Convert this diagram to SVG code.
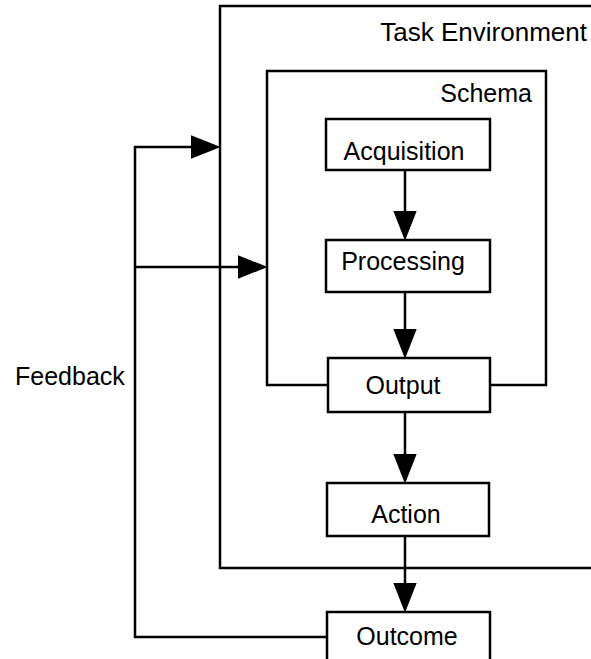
<svg xmlns="http://www.w3.org/2000/svg" width="591" height="659" viewBox="0 0 591 659">
  <style>
    .box { fill: #ffffff; stroke: #000000; stroke-width: 2.5; }
    .frame { fill: none; stroke: #000000; stroke-width: 2.5; }
    .lbl { font-family: "Liberation Sans", Arial, sans-serif; font-size: 25px; fill: #000000; }
    .ctr { text-anchor: middle; }
    .end { text-anchor: end; }
    .conn { fill: none; stroke: #000000; stroke-width: 2.5; }
  </style>
  <defs>
    <marker id="arrow" markerUnits="userSpaceOnUse" markerWidth="30" markerHeight="24" viewBox="0 0 28 22" refX="18" refY="11" orient="auto">
      <path d="M0,0 L28,11 L0,22 Z" fill="#000000"/>
    </marker>
  </defs>
  <rect x="0" y="0" width="591" height="659" fill="#ffffff"/>

  <g id="task-environment">
    <rect class="box" x="220" y="6" width="400" height="562"/>
    <text class="lbl end" x="587" y="41" style="font-size:26px">Task Environment</text>
  </g>

  <g id="schema">
    <rect class="box" x="267" y="71" width="279" height="314"/>
    <text class="lbl end" x="532" y="102">Schema</text>
  </g>

  <g id="connectors">
    <line class="conn" x1="405" y1="170" x2="405" y2="230" marker-end="url(#arrow)"/>
    <line class="conn" x1="405" y1="292" x2="405" y2="348" marker-end="url(#arrow)"/>
    <line class="conn" x1="405" y1="412" x2="405" y2="473" marker-end="url(#arrow)"/>
    <line class="conn" x1="405" y1="536" x2="405" y2="602" marker-end="url(#arrow)"/>
    <polyline class="conn" points="327,637 135,637 135,147 210,147" marker-end="url(#arrow)"/>
    <line class="conn" x1="135" y1="267" x2="257" y2="267" marker-end="url(#arrow)"/>
  </g>

  <g id="acquisition">
    <rect class="box" x="326" y="119" width="164" height="51"/>
    <text class="lbl ctr" x="404" y="160">Acquisition</text>
  </g>

  <g id="processing">
    <rect class="box" x="326" y="240" width="164" height="52"/>
    <text class="lbl ctr" x="403" y="270">Processing</text>
  </g>

  <g id="output">
    <rect class="box" x="328" y="358" width="162" height="54"/>
    <text class="lbl ctr" x="403" y="394">Output</text>
  </g>

  <g id="action">
    <rect class="box" x="327" y="483" width="162" height="53"/>
    <text class="lbl ctr" x="406" y="523">Action</text>
  </g>

  <g id="outcome">
    <rect class="box" x="327" y="612" width="163" height="60"/>
    <text class="lbl ctr" x="407" y="645">Outcome</text>
  </g>

  <g id="feedback-label">
    <text class="lbl" x="15" y="385">Feedback</text>
  </g>
</svg>
